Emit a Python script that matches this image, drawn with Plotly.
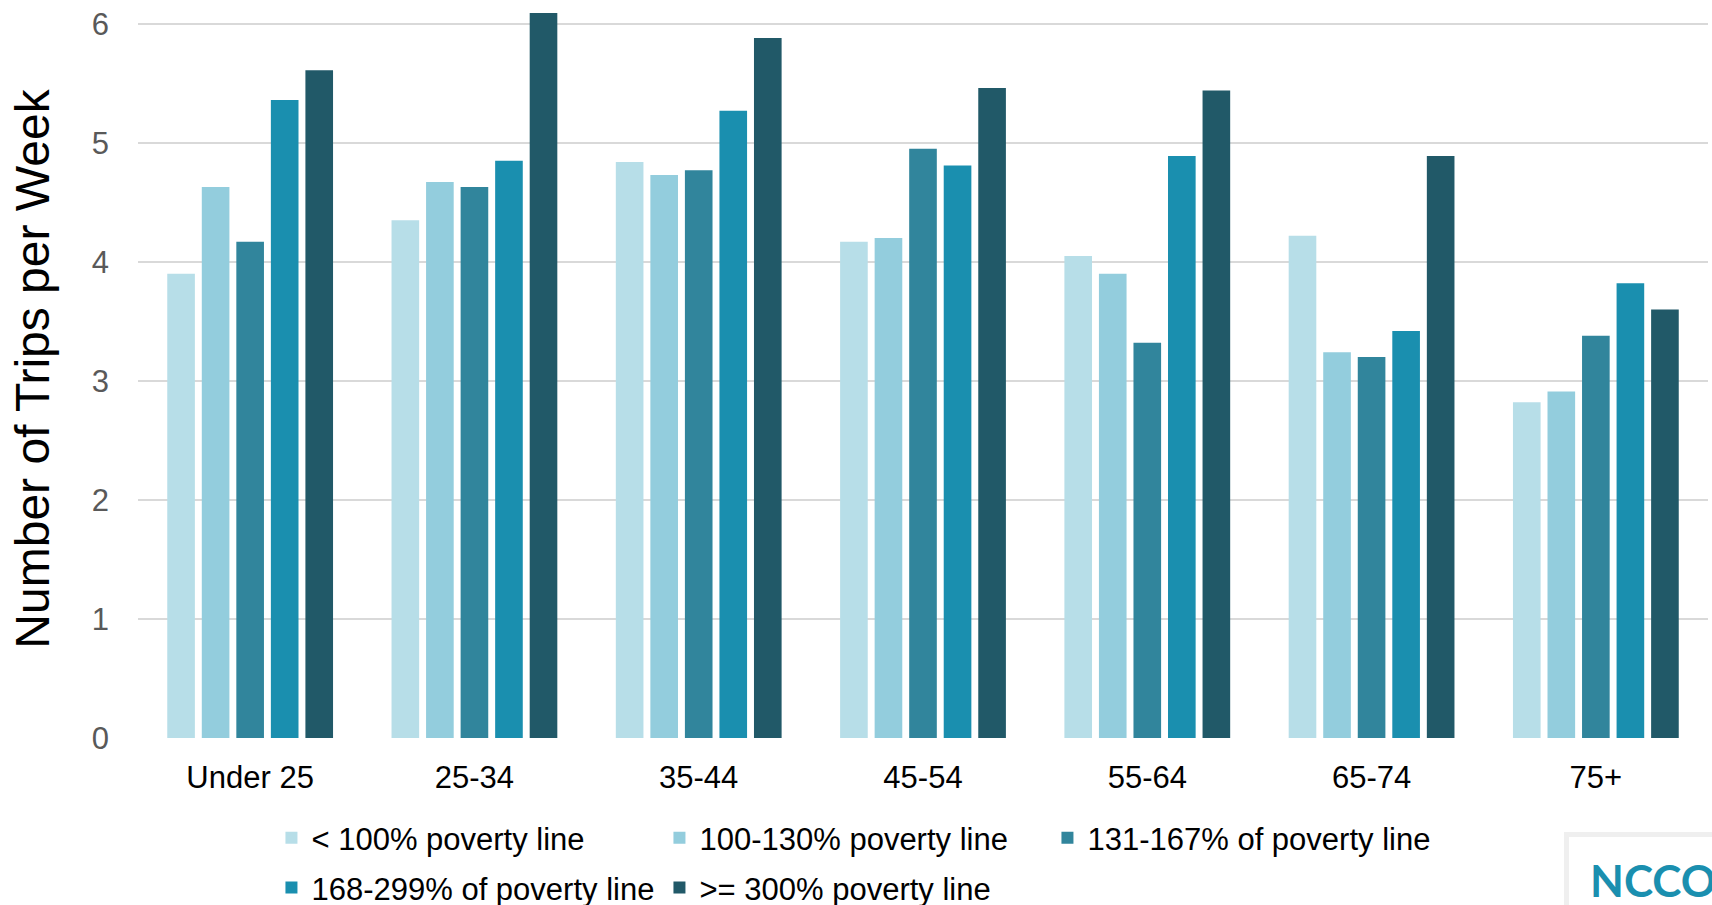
import plotly.graph_objects as go

categories = ["Under 25", "25-34", "35-44", "45-54", "55-64", "65-74", "75+"]
series_names = ["< 100% poverty line", "100-130% poverty line", "131-167% of poverty line",
                "168-299% of poverty line", ">= 300% poverty line"]
below_100 = [3.90, 4.35, 4.84, 4.17, 4.05, 4.22, 2.82]
p100_130 = [4.63, 4.67, 4.73, 4.20, 3.90, 3.24, 2.91]
p131_167 = [4.17, 4.63, 4.77, 4.95, 3.32, 3.20, 3.38]
p168_299 = [5.36, 4.85, 5.27, 4.81, 4.89, 3.42, 3.82]
above_300 = [5.61, 6.09, 5.88, 5.46, 5.44, 4.89, 3.60]
colors = ["#B7DEE8", "#93CDDD", "#31859C", "#1A8FAF", "#215968"]
y_ticks = [0, 1, 2, 3, 4, 5, 6]

series_values = [below_100, p100_130, p131_167, p168_299, above_300]
legend_ids = ["legend", "legend", "legend", "legend2", "legend2"]

fig = go.Figure()
for name, vals, col, lg in zip(series_names, series_values, colors, legend_ids):
    fig.add_trace(go.Bar(x=categories, y=vals, name=name, marker_color=col,
                         marker_line_width=0, legend=lg))

font_family = "Liberation Sans, Arial, sans-serif"
fig.update_layout(
    width=1712, height=905,
    margin=dict(l=138, r=4, t=0, b=167, autoexpand=False),
    paper_bgcolor="white", plot_bgcolor="white",
    barmode="group", bargap=0.23, bargroupgap=0.2,
    font=dict(family=font_family, size=31, color="black"),
    showlegend=True,
    legend=dict(orientation="h", x=0.085, xanchor="left", y=-0.1355, yanchor="middle",
                entrywidth=343, font=dict(size=31, color="black"), bgcolor="rgba(0,0,0,0)"),
    legend2=dict(orientation="h", x=0.085, xanchor="left", y=-0.203, yanchor="middle",
                 entrywidth=343, font=dict(size=31, color="black"), bgcolor="rgba(0,0,0,0)"),
)
fig.update_xaxes(showgrid=False, showline=False, zeroline=False, ticks="",
                 tickfont=dict(size=31, color="black"), ticklabelstandoff=18)
fig.update_yaxes(range=[0, 6.2], tickvals=y_ticks, showgrid=True, gridcolor="#D9D9D9",
                 gridwidth=2, zeroline=False, showline=False, ticks="",
                 tickfont=dict(size=31, color="#595959"), ticklabelstandoff=28,
                 title=dict(text="Number of Trips per Week", font=dict(size=48, color="black"),
                            standoff=26))

# logo box in bottom-right corner
fig.add_shape(type="rect", xref="paper", yref="paper", x0=1.0 + (1564 - 1708) / 1570, x1=1.1,
              y0=-0.3, y1=-(832 - 738) / 738, line=dict(width=0), fillcolor="#EFEFEF", layer="above")
fig.add_shape(type="rect", xref="paper", yref="paper", x0=1.0 + (1569 - 1708) / 1570, x1=1.1,
              y0=-0.3, y1=-(837 - 738) / 738, line=dict(width=0), fillcolor="white", layer="above")
fig.add_annotation(text="<b>NCCOR</b>", xref="paper", yref="paper",
                   x=1.0 + (1588 - 1708) / 1570, y=-(880 - 738) / 738, xanchor="left", yanchor="middle",
                   showarrow=False, font=dict(family="Lato, sans-serif", size=44, color="#1A8FAF"))

fig.write_html("out.html", config={"displayModeBar": False},
               post_script="document.body.style.margin='0';document.body.style.overflow='hidden';")
